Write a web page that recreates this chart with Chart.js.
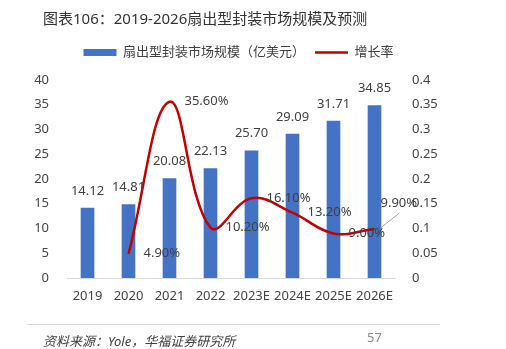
<!DOCTYPE html>
<html lang="zh">
<head>
<meta charset="UTF-8">
<title>扇出型封装市场规模及预测</title>
<script src="https://cdn.jsdelivr.net/npm/chart.js"></script>
<style>
  body { margin: 0; background: #fff; }
  #wrap { position: relative; width: 506px; height: 349px; overflow: hidden; }
  #c { position: absolute; left: 0; top: 0; }
  .title { position: absolute; left: 43px; top: 8px; font: 15px/20px "Noto Sans", "Noto Sans CJK SC", sans-serif; color: #333; }
  .rule { position: absolute; left: 27px; top: 324px; width: 413px; height: 1px; background: #dcdcdc; }
  .src { position: absolute; left: 43px; top: 333px; font: italic 13px/16px "Noto Sans", "Noto Sans CJK SC", sans-serif; color: #404040; }
  .page { position: absolute; left: 367px; top: 329px; font: 13px/16px "Noto Sans", sans-serif; color: #8c8c8c; }
</style>
</head>
<body>
<div id="wrap">
  <canvas id="c" width="506" height="349"></canvas>
  <div class="title">图表106：2019-2026扇出型封装市场规模及预测</div>
  <div class="rule"></div>
  <div class="src">资料来源：Yole，华福证券研究所</div>
  <div class="page">57</div>
</div>

<script>
const years = ['2019', '2020', '2021', '2022', '2023E', '2024E', '2025E', '2026E'];
const marketSize = [14.12, 14.81, 20.08, 22.13, 25.70, 29.09, 31.71, 34.85];
const growthRate = [null, 0.049, 0.356, 0.102, 0.161, 0.132, 0.090, 0.099];
const leftTicks = ['0', '5', '10', '15', '20', '25', '30', '35', '40'];
const rightTicks = ['0', '0.05', '0.1', '0.15', '0.2', '0.25', '0.3', '0.35', '0.4'];

Chart.defaults.font.family = '"Noto Sans", "Noto Sans CJK SC", sans-serif';
Chart.defaults.font.size = 13;
Chart.defaults.color = '#444';

// extra room under the legend
const legendGap = {
  id: 'legendGap',
  beforeInit(chart) {
    const fit = chart.legend.fit;
    chart.legend.fit = function () { fit.call(this); this.height += 11; };
  }
};

// data labels (bars above, rates to the right of the points)
const valueLabels = {
  id: 'valueLabels',
  afterDatasetsDraw(chart) {
    const ctx = chart.ctx;
    ctx.save();
    ctx.font = '13px "Noto Sans", sans-serif';
    ctx.fillStyle = '#404040';
    ctx.textBaseline = 'middle';

    ctx.textAlign = 'center';
    chart.getDatasetMeta(1).data.forEach((bar, i) => {
      ctx.fillText(marketSize[i].toFixed(2), bar.x, bar.y - 17);
    });

    ctx.textAlign = 'left';
    const pts = chart.getDatasetMeta(0).data;
    pts.forEach((pt, i) => {
      if (growthRate[i] == null) return;
      const txt = (growthRate[i] * 100).toFixed(2) + '%';
      if (i === pts.length - 1) {
        ctx.strokeStyle = '#a6a6a6';
        ctx.lineWidth = 1;
        ctx.beginPath();
        ctx.moveTo(pt.x + 6, pt.y - 1);
        ctx.lineTo(pt.x + 25, pt.y - 16);
        ctx.stroke();
        ctx.fillText(txt, pt.x + 6, pt.y - 26);
      } else {
        ctx.fillText(txt, pt.x + 15, pt.y);
      }
    });
    ctx.restore();
  }
};

new Chart(document.getElementById('c'), {
  data: {
    labels: years,
    datasets: [{
      type: 'line',
      label: '增长率',
      data: growthRate,
      yAxisID: 'y1',
      borderColor: '#C00000',
      backgroundColor: '#C00000',
      borderWidth: 2.5,
      tension: 0.4,
      pointRadius: 0,
      pointStyle: 'line',
      fill: false
    }, {
      type: 'bar',
      label: '扇出型封装市场规模（亿美元）',
      data: marketSize,
      yAxisID: 'y',
      backgroundColor: '#4472C4',
      pointStyle: 'rect',
      barThickness: 13
    }]
  },
  options: {
    responsive: false,
    animation: false,
    devicePixelRatio: 1,
    layout: { padding: { top: 36, left: 0, right: 29, bottom: 0 } },
    plugins: {
      legend: {
        reverse: true,
        labels: {
          usePointStyle: true,
          pointStyleWidth: 33,
          boxHeight: 7,
          padding: 10,
          color: '#404040',
          font: { size: 13 }
        }
      },
      tooltip: { enabled: false }
    },
    scales: {
      x: {
        grid: { display: true, drawOnChartArea: false, drawTicks: false },
        border: { display: true, color: '#d9d9d9', width: 1 },
        ticks: { padding: 10, maxRotation: 0, minRotation: 0, autoSkip: false },
        afterFit(s) { s.height = 71; }
      },
      y: {
        position: 'left',
        min: 0, max: 40,
        grid: { display: false },
        border: { display: false },
        ticks: { stepSize: 5, padding: 10, callback: (v, i) => leftTicks[i] },
        afterFit(s) { s.width = 67; }
      },
      y1: {
        position: 'right',
        min: 0, max: 0.4,
        grid: { display: false },
        border: { display: false },
        ticks: { stepSize: 0.05, padding: 9, callback: (v, i) => rightTicks[i] },
        afterFit(s) { s.width = 82; }
      }
    }
  },
  plugins: [legendGap, valueLabels]
});
</script>
</body>
</html>
